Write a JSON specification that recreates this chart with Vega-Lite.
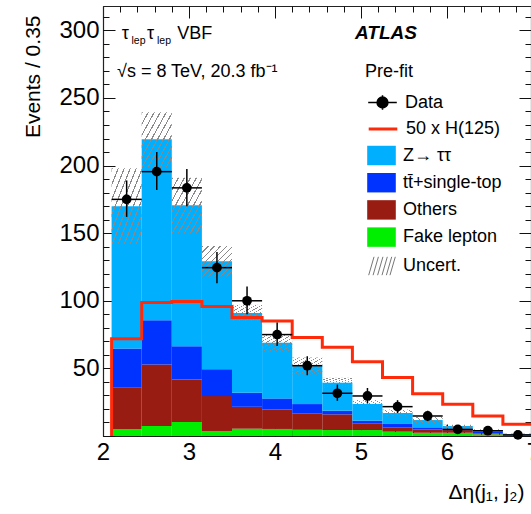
{
  "$schema": "https://vega.github.io/schema/vega-lite/v6.json",
  "width": 428,
  "height": 430,
  "autosize": "none",
  "padding": {"left": 103, "top": 6, "right": 0, "bottom": 78},
  "background": "white",
  "config": {
    "font": "Liberation Sans",
    "view": {"stroke": null},
    "axis": {"zindex": 1, "grid": false, "labelFlush": false, "labelOverlap": false, "labelBound": false, "domainColor": "#222", "domainWidth": 1.2, "tickColor": "#111", "tickWidth": 1, "labelColor": "#000", "titleColor": "#000", "titleFontWeight": "normal", "labelFont": "Liberation Sans", "titleFont": "Liberation Sans"},
    "legend": {"labelFontSize": 18, "labelFont": "Liberation Sans", "labelColor": "#000", "labelOffset": 7, "padding": 0, "labelLimit": 400, "title": null}
  },
  "datasets": {
    "stack": [
      {"lo": 2.1, "hi": 2.45, "proc": "Fake lepton", "k": 1, "n": 5.0},
      {"lo": 2.1, "hi": 2.45, "proc": "Others", "k": 2, "n": 30.7},
      {"lo": 2.1, "hi": 2.45, "proc": "tt\u0304+single-top", "k": 3, "n": 29.0},
      {"lo": 2.1, "hi": 2.45, "proc": "Z\u2192 \u03c4\u03c4", "k": 4, "n": 105.3},
      {"lo": 2.45, "hi": 2.8, "proc": "Fake lepton", "k": 1, "n": 7.4},
      {"lo": 2.45, "hi": 2.8, "proc": "Others", "k": 2, "n": 45.5},
      {"lo": 2.45, "hi": 2.8, "proc": "tt\u0304+single-top", "k": 3, "n": 32.7},
      {"lo": 2.45, "hi": 2.8, "proc": "Z\u2192 \u03c4\u03c4", "k": 4, "n": 133.8},
      {"lo": 2.8, "hi": 3.15, "proc": "Fake lepton", "k": 1, "n": 10.4},
      {"lo": 2.8, "hi": 3.15, "proc": "Others", "k": 2, "n": 31.4},
      {"lo": 2.8, "hi": 3.15, "proc": "tt\u0304+single-top", "k": 3, "n": 24.6},
      {"lo": 2.8, "hi": 3.15, "proc": "Z\u2192 \u03c4\u03c4", "k": 4, "n": 104.2},
      {"lo": 3.15, "hi": 3.5, "proc": "Fake lepton", "k": 1, "n": 3.7},
      {"lo": 3.15, "hi": 3.5, "proc": "Others", "k": 2, "n": 25.8},
      {"lo": 3.15, "hi": 3.5, "proc": "tt\u0304+single-top", "k": 3, "n": 19.9},
      {"lo": 3.15, "hi": 3.5, "proc": "Z\u2192 \u03c4\u03c4", "k": 4, "n": 79.8},
      {"lo": 3.5, "hi": 3.85, "proc": "Fake lepton", "k": 1, "n": 5.4},
      {"lo": 3.5, "hi": 3.85, "proc": "Others", "k": 2, "n": 16.2},
      {"lo": 3.5, "hi": 3.85, "proc": "tt\u0304+single-top", "k": 3, "n": 10.4},
      {"lo": 3.5, "hi": 3.85, "proc": "Z\u2192 \u03c4\u03c4", "k": 4, "n": 59.0},
      {"lo": 3.85, "hi": 4.2, "proc": "Fake lepton", "k": 1, "n": 5.2},
      {"lo": 3.85, "hi": 4.2, "proc": "Others", "k": 2, "n": 14.5},
      {"lo": 3.85, "hi": 4.2, "proc": "tt\u0304+single-top", "k": 3, "n": 8.1},
      {"lo": 3.85, "hi": 4.2, "proc": "Z\u2192 \u03c4\u03c4", "k": 4, "n": 41.1},
      {"lo": 4.2, "hi": 4.55, "proc": "Fake lepton", "k": 1, "n": 4.6},
      {"lo": 4.2, "hi": 4.55, "proc": "Others", "k": 2, "n": 11.9},
      {"lo": 4.2, "hi": 4.55, "proc": "tt\u0304+single-top", "k": 3, "n": 7.1},
      {"lo": 4.2, "hi": 4.55, "proc": "Z\u2192 \u03c4\u03c4", "k": 4, "n": 28.2},
      {"lo": 4.55, "hi": 4.9, "proc": "Fake lepton", "k": 1, "n": 4.4},
      {"lo": 4.55, "hi": 4.9, "proc": "Others", "k": 2, "n": 11.6},
      {"lo": 4.55, "hi": 4.9, "proc": "tt\u0304+single-top", "k": 3, "n": 2.7},
      {"lo": 4.55, "hi": 4.9, "proc": "Z\u2192 \u03c4\u03c4", "k": 4, "n": 20.7},
      {"lo": 4.9, "hi": 5.25, "proc": "Fake lepton", "k": 1, "n": 4.4},
      {"lo": 4.9, "hi": 5.25, "proc": "Others", "k": 2, "n": 5.0},
      {"lo": 4.9, "hi": 5.25, "proc": "tt\u0304+single-top", "k": 3, "n": 1.9},
      {"lo": 4.9, "hi": 5.25, "proc": "Z\u2192 \u03c4\u03c4", "k": 4, "n": 12.4},
      {"lo": 5.25, "hi": 5.6, "proc": "Fake lepton", "k": 1, "n": 3.2},
      {"lo": 5.25, "hi": 5.6, "proc": "Others", "k": 2, "n": 3.2},
      {"lo": 5.25, "hi": 5.6, "proc": "tt\u0304+single-top", "k": 3, "n": 2.5},
      {"lo": 5.25, "hi": 5.6, "proc": "Z\u2192 \u03c4\u03c4", "k": 4, "n": 8.1},
      {"lo": 5.6, "hi": 5.95, "proc": "Fake lepton", "k": 1, "n": 2.4},
      {"lo": 5.6, "hi": 5.95, "proc": "Others", "k": 2, "n": 2.5},
      {"lo": 5.6, "hi": 5.95, "proc": "tt\u0304+single-top", "k": 3, "n": 1.5},
      {"lo": 5.6, "hi": 5.95, "proc": "Z\u2192 \u03c4\u03c4", "k": 4, "n": 5.4},
      {"lo": 5.95, "hi": 6.3, "proc": "Fake lepton", "k": 1, "n": 2.4},
      {"lo": 5.95, "hi": 6.3, "proc": "Others", "k": 2, "n": 2.0},
      {"lo": 5.95, "hi": 6.3, "proc": "tt\u0304+single-top", "k": 3, "n": 1.0},
      {"lo": 5.95, "hi": 6.3, "proc": "Z\u2192 \u03c4\u03c4", "k": 4, "n": 2.0},
      {"lo": 6.3, "hi": 6.65, "proc": "Fake lepton", "k": 1, "n": 1.2},
      {"lo": 6.3, "hi": 6.65, "proc": "Others", "k": 2, "n": 0.8},
      {"lo": 6.3, "hi": 6.65, "proc": "tt\u0304+single-top", "k": 3, "n": 1.0},
      {"lo": 6.3, "hi": 6.65, "proc": "Z\u2192 \u03c4\u03c4", "k": 4, "n": 1.4},
      {"lo": 6.65, "hi": 7.0, "proc": "Fake lepton", "k": 1, "n": 0.5},
      {"lo": 6.65, "hi": 7.0, "proc": "Others", "k": 2, "n": 0.4},
      {"lo": 6.65, "hi": 7.0, "proc": "tt\u0304+single-top", "k": 3, "n": 0.3},
      {"lo": 6.65, "hi": 7.0, "proc": "Z\u2192 \u03c4\u03c4", "k": 4, "n": 0.3}
    ],
    "bins": [
      {"lo": 2.1, "hi": 2.45, "mid": 2.275, "d": 175, "dlo": 162, "dhi": 189, "ulo": 142, "uhi": 198},
      {"lo": 2.45, "hi": 2.8, "mid": 2.625, "d": 195.5, "dlo": 182, "dhi": 210, "ulo": 199, "uhi": 239.5},
      {"lo": 2.8, "hi": 3.15, "mid": 2.975, "d": 183.5, "dlo": 170, "dhi": 197.5, "ulo": 150, "uhi": 191},
      {"lo": 3.15, "hi": 3.5, "mid": 3.325, "d": 124.5, "dlo": 113, "dhi": 136, "ulo": 118, "uhi": 140.5},
      {"lo": 3.5, "hi": 3.85, "mid": 3.675, "d": 100, "dlo": 90, "dhi": 110.5, "ulo": 85, "uhi": 97},
      {"lo": 3.85, "hi": 4.2, "mid": 4.025, "d": 75, "dlo": 66.5, "dhi": 84, "ulo": 62.5, "uhi": 75.3},
      {"lo": 4.2, "hi": 4.55, "mid": 4.375, "d": 52, "dlo": 45, "dhi": 59, "ulo": 45.5, "uhi": 58},
      {"lo": 4.55, "hi": 4.9, "mid": 4.725, "d": 31.6, "dlo": 26, "dhi": 38, "ulo": 35.5, "uhi": 43},
      {"lo": 4.9, "hi": 5.25, "mid": 5.075, "d": 29.6, "dlo": 24, "dhi": 35.5, "ulo": 21, "uhi": 26.6},
      {"lo": 5.25, "hi": 5.6, "mid": 5.425, "d": 21.7, "dlo": 17, "dhi": 26.5, "ulo": 14.5, "uhi": 19.5},
      {"lo": 5.6, "hi": 5.95, "mid": 5.775, "d": 14.8, "dlo": 11, "dhi": 18.7, "ulo": 9.5, "uhi": 14},
      {"lo": 5.95, "hi": 6.3, "mid": 6.125, "d": 4.9, "dlo": 2.7, "dhi": 7.2, "ulo": 6.5, "uhi": 8.3},
      {"lo": 6.3, "hi": 6.65, "mid": 6.475, "d": 3.9, "dlo": 2, "dhi": 6, "ulo": 3.8, "uhi": 5},
      {"lo": 6.65, "hi": 7.0, "mid": 6.825, "d": 0.8, "dlo": 0, "dhi": 1.8, "ulo": 1.2, "uhi": 1.8}
    ],
    "hline": [
      {"e": 2.1, "h": 0},
      {"e": 2.1, "h": 72.0},
      {"e": 2.45, "h": 98.8},
      {"e": 2.8, "h": 99.4},
      {"e": 3.15, "h": 95.7},
      {"e": 3.5, "h": 87.6},
      {"e": 3.85, "h": 85.1},
      {"e": 4.2, "h": 72.8},
      {"e": 4.55, "h": 65.6},
      {"e": 4.9, "h": 55.0},
      {"e": 5.25, "h": 43.2},
      {"e": 5.6, "h": 31.3},
      {"e": 5.95, "h": 23.5},
      {"e": 6.3, "h": 14.8},
      {"e": 6.65, "h": 8.6},
      {"e": 7.0, "h": 8.6}
    ]
  },
  "resolve": {"axis": {"x": "independent", "y": "independent"}},
  "layer": [
    {
      "data": {"name": "stack"},
      "transform": [{"stack": "n", "groupby": ["lo", "hi"], "sort": [{"field": "k", "order": "ascending"}], "as": ["n0", "n1"]}],
      "mark": {"type": "rect", "strokeWidth": 0},
      "encoding": {
        "x": {"field": "lo", "type": "quantitative", "scale": {"domain": [2, 7], "range": [0, 430], "nice": false, "zero": false},
              "axis": {"orient": "bottom", "values": [2, 3, 4, 5, 6, 7], "format": "d", "ticks": false, "labelFontSize": 24, "labelPadding": 4, "title": "\u0394\u03b7(j\u2081, j\u2082)", "titleFontSize": 21, "titleX": 345, "titleY": 62, "titleAlign": "left", "titleBaseline": "alphabetic", "titleAngle": 0}},
        "x2": {"field": "hi"},
        "y": {"field": "n0", "type": "quantitative", "scale": {"domain": [0, 318], "nice": false, "zero": false},
              "axis": {"orient": "left", "values": [50, 100, 150, 200, 250, 300], "format": "d", "ticks": false, "labelFontSize": 24, "labelPadding": 4, "title": "Events / 0.35", "titleFontSize": 21, "titleX": -64, "titleY": 9, "titleAngle": 270, "titleAlign": "right", "titleBaseline": "alphabetic"}},
        "y2": {"field": "n1"},
        "color": {"field": "proc", "type": "nominal",
                 "scale": {"domain": ["Z\u2192 \u03c4\u03c4", "tt\u0304+single-top", "Others", "Fake lepton"], "range": ["#00b0ff", "#0033ff", "#991c12", "#00ee00"]},
                 "legend": {"orient": "none", "legendX": 264, "legendY": 135, "symbolType": "M-1,-0.68H1V0.68H-1Z", "symbolSize": 818, "symbolStrokeWidth": 0, "symbolOpacity": 1, "rowPadding": 2.2}}
      }
    },
    {
      "data": {"name": "bins"},
      "mark": {"type": "rect", "strokeWidth": 0,
               "fill": {"gradient": "linear", "x1": 0, "y1": 0, "x2": 1, "y2": 1, "stops": [
                 {"offset": 0, "color": "#8a8a8a"}, {"offset": 0.02, "color": "#8a8a8a"}, {"offset": 0.02, "color": "rgba(138,138,138,0)"}, {"offset": 0.1, "color": "rgba(138,138,138,0)"},
                 {"offset": 0.1, "color": "#8a8a8a"}, {"offset": 0.12, "color": "#8a8a8a"}, {"offset": 0.12, "color": "rgba(138,138,138,0)"}, {"offset": 0.2, "color": "rgba(138,138,138,0)"},
                 {"offset": 0.2, "color": "#8a8a8a"}, {"offset": 0.22, "color": "#8a8a8a"}, {"offset": 0.22, "color": "rgba(138,138,138,0)"}, {"offset": 0.3, "color": "rgba(138,138,138,0)"},
                 {"offset": 0.3, "color": "#8a8a8a"}, {"offset": 0.32, "color": "#8a8a8a"}, {"offset": 0.32, "color": "rgba(138,138,138,0)"}, {"offset": 0.4, "color": "rgba(138,138,138,0)"},
                 {"offset": 0.4, "color": "#8a8a8a"}, {"offset": 0.42, "color": "#8a8a8a"}, {"offset": 0.42, "color": "rgba(138,138,138,0)"}, {"offset": 0.5, "color": "rgba(138,138,138,0)"},
                 {"offset": 0.5, "color": "#8a8a8a"}, {"offset": 0.52, "color": "#8a8a8a"}, {"offset": 0.52, "color": "rgba(138,138,138,0)"}, {"offset": 0.6, "color": "rgba(138,138,138,0)"},
                 {"offset": 0.6, "color": "#8a8a8a"}, {"offset": 0.62, "color": "#8a8a8a"}, {"offset": 0.62, "color": "rgba(138,138,138,0)"}, {"offset": 0.7, "color": "rgba(138,138,138,0)"},
                 {"offset": 0.7, "color": "#8a8a8a"}, {"offset": 0.72, "color": "#8a8a8a"}, {"offset": 0.72, "color": "rgba(138,138,138,0)"}, {"offset": 0.8, "color": "rgba(138,138,138,0)"},
                 {"offset": 0.8, "color": "#8a8a8a"}, {"offset": 0.82, "color": "#8a8a8a"}, {"offset": 0.82, "color": "rgba(138,138,138,0)"}, {"offset": 0.9, "color": "rgba(138,138,138,0)"},
                 {"offset": 0.9, "color": "#8a8a8a"}, {"offset": 0.92, "color": "#8a8a8a"}, {"offset": 0.92, "color": "rgba(138,138,138,0)"}, {"offset": 1, "color": "rgba(138,138,138,0)"}
               ]}},
      "encoding": {
        "x": {"field": "lo", "type": "quantitative", "scale": {"domain": [2, 7], "range": [0, 430], "nice": false, "zero": false},
              "axis": {"orient": "bottom", "values": [2, 3, 4, 5, 6, 7], "labels": false, "domain": false, "tickSize": -12, "title": null}},
        "x2": {"field": "hi"},
        "y": {"field": "ulo", "type": "quantitative", "scale": {"domain": [0, 318], "nice": false, "zero": false},
              "axis": {"orient": "left", "values": [0, 50, 100, 150, 200, 250, 300], "labels": false, "domain": false, "tickSize": -12, "title": null}},
        "y2": {"field": "uhi"},
        "stroke": {"datum": "Uncert.", "type": "nominal", "scale": {"range": ["#777777"]},
                   "legend": {"orient": "none", "legendX": 265, "legendY": 246,
                              "symbolType": "M-1,0.69L-0.6,-0.69M-0.67,0.69L-0.27,-0.69M-0.33,0.69L0.07,-0.69M0,0.69L0.4,-0.69M0.33,0.69L0.73,-0.69M0.6,0.69L1,-0.69",
                              "symbolSize": 708, "symbolStrokeWidth": 1, "symbolFillColor": "transparent",
                              "encode": {"symbols": {"update": {"strokeWidth": {"value": 1}, "fill": {"value": "transparent"}, "stroke": {"value": "#777777"}}}}}}
      }
    },
    {
      "data": {"name": "hline"},
      "mark": {"type": "line", "interpolate": "step-after", "strokeWidth": 3, "color": "#ff2a0a"},
      "encoding": {
        "x": {"field": "e", "type": "quantitative", "scale": {"domain": [2, 7], "range": [0, 430], "nice": false, "zero": false},
              "axis": {"orient": "bottom", "values": [2, 2.2, 2.4, 2.6, 2.8, 3, 3.2, 3.4, 3.6, 3.8, 4, 4.2, 4.4, 4.6, 4.8, 5, 5.2, 5.4, 5.6, 5.8, 6, 6.2, 6.4, 6.6, 6.8, 7], "labels": false, "domain": false, "tickSize": -6, "title": null}},
        "y": {"field": "h", "type": "quantitative", "scale": {"domain": [0, 318], "nice": false, "zero": false},
              "axis": {"orient": "left", "values": [0, 10, 20, 30, 40, 50, 60, 70, 80, 90, 100, 110, 120, 130, 140, 150, 160, 170, 180, 190, 200, 210, 220, 230, 240, 250, 260, 270, 280, 290, 300, 310], "labels": false, "domain": false, "tickSize": -6, "title": null}},
        "strokeDash": {"datum": "50 x H(125)", "type": "nominal", "scale": {"range": [[1, 0]]},
                       "legend": {"orient": "none", "legendX": 264, "legendY": 107, "symbolType": "stroke", "symbolSize": 818, "symbolStrokeColor": "#ff2a0a", "symbolStrokeWidth": 3}}
      }
    },
    {
      "data": {"name": "bins"},
      "mark": {"type": "rule", "strokeWidth": 1.5, "color": "#000"},
      "encoding": {
        "x": {"field": "lo", "type": "quantitative", "scale": {"domain": [2, 7], "range": [0, 430], "nice": false, "zero": false},
              "axis": {"orient": "top", "values": [2, 3, 4, 5, 6, 7], "labels": false, "domain": true, "tickSize": -12, "title": null}},
        "x2": {"field": "hi"},
        "y": {"field": "d", "type": "quantitative", "scale": {"domain": [0, 318], "nice": false, "zero": false},
              "axis": {"orient": "right", "values": [0, 50, 100, 150, 200, 250, 300], "labels": false, "domain": true, "tickSize": -12, "title": null}}
      }
    },
    {
      "data": {"name": "bins"},
      "mark": {"type": "rule", "strokeWidth": 1.5, "color": "#000"},
      "encoding": {
        "x": {"field": "mid", "type": "quantitative", "scale": {"domain": [2, 7], "range": [0, 430], "nice": false, "zero": false},
              "axis": {"orient": "top", "values": [2, 2.2, 2.4, 2.6, 2.8, 3, 3.2, 3.4, 3.6, 3.8, 4, 4.2, 4.4, 4.6, 4.8, 5, 5.2, 5.4, 5.6, 5.8, 6, 6.2, 6.4, 6.6, 6.8, 7], "labels": false, "domain": false, "tickSize": -6, "title": null}},
        "y": {"field": "dlo", "type": "quantitative", "scale": {"domain": [0, 318], "nice": false, "zero": false},
              "axis": {"orient": "right", "values": [0, 10, 20, 30, 40, 50, 60, 70, 80, 90, 100, 110, 120, 130, 140, 150, 160, 170, 180, 190, 200, 210, 220, 230, 240, 250, 260, 270, 280, 290, 300, 310], "labels": false, "domain": false, "tickSize": -6, "title": null}},
        "y2": {"field": "dhi"}
      }
    },
    {
      "data": {"name": "bins"},
      "mark": {"type": "point", "filled": true, "size": 95, "shape": "circle", "opacity": 1, "strokeWidth": 0},
      "encoding": {
        "x": {"field": "mid", "type": "quantitative", "scale": {"domain": [2, 7], "range": [0, 430], "nice": false, "zero": false}, "axis": null},
        "y": {"field": "d", "type": "quantitative", "scale": {"domain": [0, 318], "nice": false, "zero": false}, "axis": null},
        "fill": {"datum": "Data", "type": "nominal", "scale": {"range": ["#000000"]},
                 "legend": {"orient": "none", "legendX": 264, "legendY": 81, "symbolSize": 818,
                            "symbolType": "M-1,0L1,0M0,-0.5L0,0.5M0.38,0A0.38,0.38,0,1,1,-0.38,0A0.38,0.38,0,1,1,0.38,0Z",
                            "symbolStrokeColor": "#000", "symbolStrokeWidth": 1.5,
                            "encode": {"symbols": {"update": {"stroke": {"value": "#000"}, "strokeWidth": {"value": 1.5}, "opacity": {"value": 1}}}}}}
      }
    },
    {
      "data": {"values": [{}]},
      "mark": {"type": "text", "text": "\u03c4", "fontSize": 18, "align": "left", "baseline": "alphabetic", "color": "#000"},
      "encoding": {
        "x": {"datum": 2.2174, "type": "quantitative", "scale": {"domain": [2, 7], "range": [0, 430], "nice": false, "zero": false}, "axis": null},
        "y": {"datum": 293.4, "type": "quantitative", "scale": {"domain": [0, 318], "nice": false, "zero": false}, "axis": null}
      }
    },
    {
      "data": {"values": [{}]},
      "mark": {"type": "text", "text": "lep", "fontSize": 10.5, "align": "left", "baseline": "alphabetic", "color": "#000"},
      "encoding": {
        "x": {"datum": 2.3314, "type": "quantitative", "scale": {"domain": [2, 7], "range": [0, 430], "nice": false, "zero": false}, "axis": null},
        "y": {"datum": 289.6, "type": "quantitative", "scale": {"domain": [0, 318], "nice": false, "zero": false}, "axis": null}
      }
    },
    {
      "data": {"values": [{}]},
      "mark": {"type": "text", "text": "\u03c4", "fontSize": 18, "align": "left", "baseline": "alphabetic", "color": "#000"},
      "encoding": {
        "x": {"datum": 2.5116, "type": "quantitative", "scale": {"domain": [2, 7], "range": [0, 430], "nice": false, "zero": false}, "axis": null},
        "y": {"datum": 293.4, "type": "quantitative", "scale": {"domain": [0, 318], "nice": false, "zero": false}, "axis": null}
      }
    },
    {
      "data": {"values": [{}]},
      "mark": {"type": "text", "text": "lep", "fontSize": 10.5, "align": "left", "baseline": "alphabetic", "color": "#000"},
      "encoding": {
        "x": {"datum": 2.6279, "type": "quantitative", "scale": {"domain": [2, 7], "range": [0, 430], "nice": false, "zero": false}, "axis": null},
        "y": {"datum": 289.6, "type": "quantitative", "scale": {"domain": [0, 318], "nice": false, "zero": false}, "axis": null}
      }
    },
    {
      "data": {"values": [{}]},
      "mark": {"type": "text", "text": "VBF", "fontSize": 18, "align": "left", "baseline": "alphabetic", "color": "#000"},
      "encoding": {
        "x": {"datum": 2.864, "type": "quantitative", "scale": {"domain": [2, 7], "range": [0, 430], "nice": false, "zero": false}, "axis": null},
        "y": {"datum": 293.4, "type": "quantitative", "scale": {"domain": [0, 318], "nice": false, "zero": false}, "axis": null}
      }
    },
    {
      "data": {"values": [{}]},
      "mark": {"type": "text", "text": "\u221as = 8 TeV, 20.3 fb\u207b\u00b9", "fontSize": 18, "align": "left", "baseline": "alphabetic", "color": "#000"},
      "encoding": {
        "x": {"datum": 2.163, "type": "quantitative", "scale": {"domain": [2, 7], "range": [0, 430], "nice": false, "zero": false}, "axis": null},
        "y": {"datum": 265.3, "type": "quantitative", "scale": {"domain": [0, 318], "nice": false, "zero": false}, "axis": null}
      }
    },
    {
      "data": {"values": [{}]},
      "mark": {"type": "text", "text": "ATLAS", "fontSize": 19, "fontWeight": "bold", "fontStyle": "italic", "align": "left", "baseline": "alphabetic", "color": "#000"},
      "encoding": {
        "x": {"datum": 4.93, "type": "quantitative", "scale": {"domain": [2, 7], "range": [0, 430], "nice": false, "zero": false}, "axis": null},
        "y": {"datum": 293.4, "type": "quantitative", "scale": {"domain": [0, 318], "nice": false, "zero": false}, "axis": null}
      }
    },
    {
      "data": {"values": [{}]},
      "mark": {"type": "text", "text": "Pre-fit", "fontSize": 18, "align": "left", "baseline": "alphabetic", "color": "#000"},
      "encoding": {
        "x": {"datum": 5.047, "type": "quantitative", "scale": {"domain": [2, 7], "range": [0, 430], "nice": false, "zero": false}, "axis": null},
        "y": {"datum": 265.3, "type": "quantitative", "scale": {"domain": [0, 318], "nice": false, "zero": false}, "axis": null}
      }
    }
  ]
}
